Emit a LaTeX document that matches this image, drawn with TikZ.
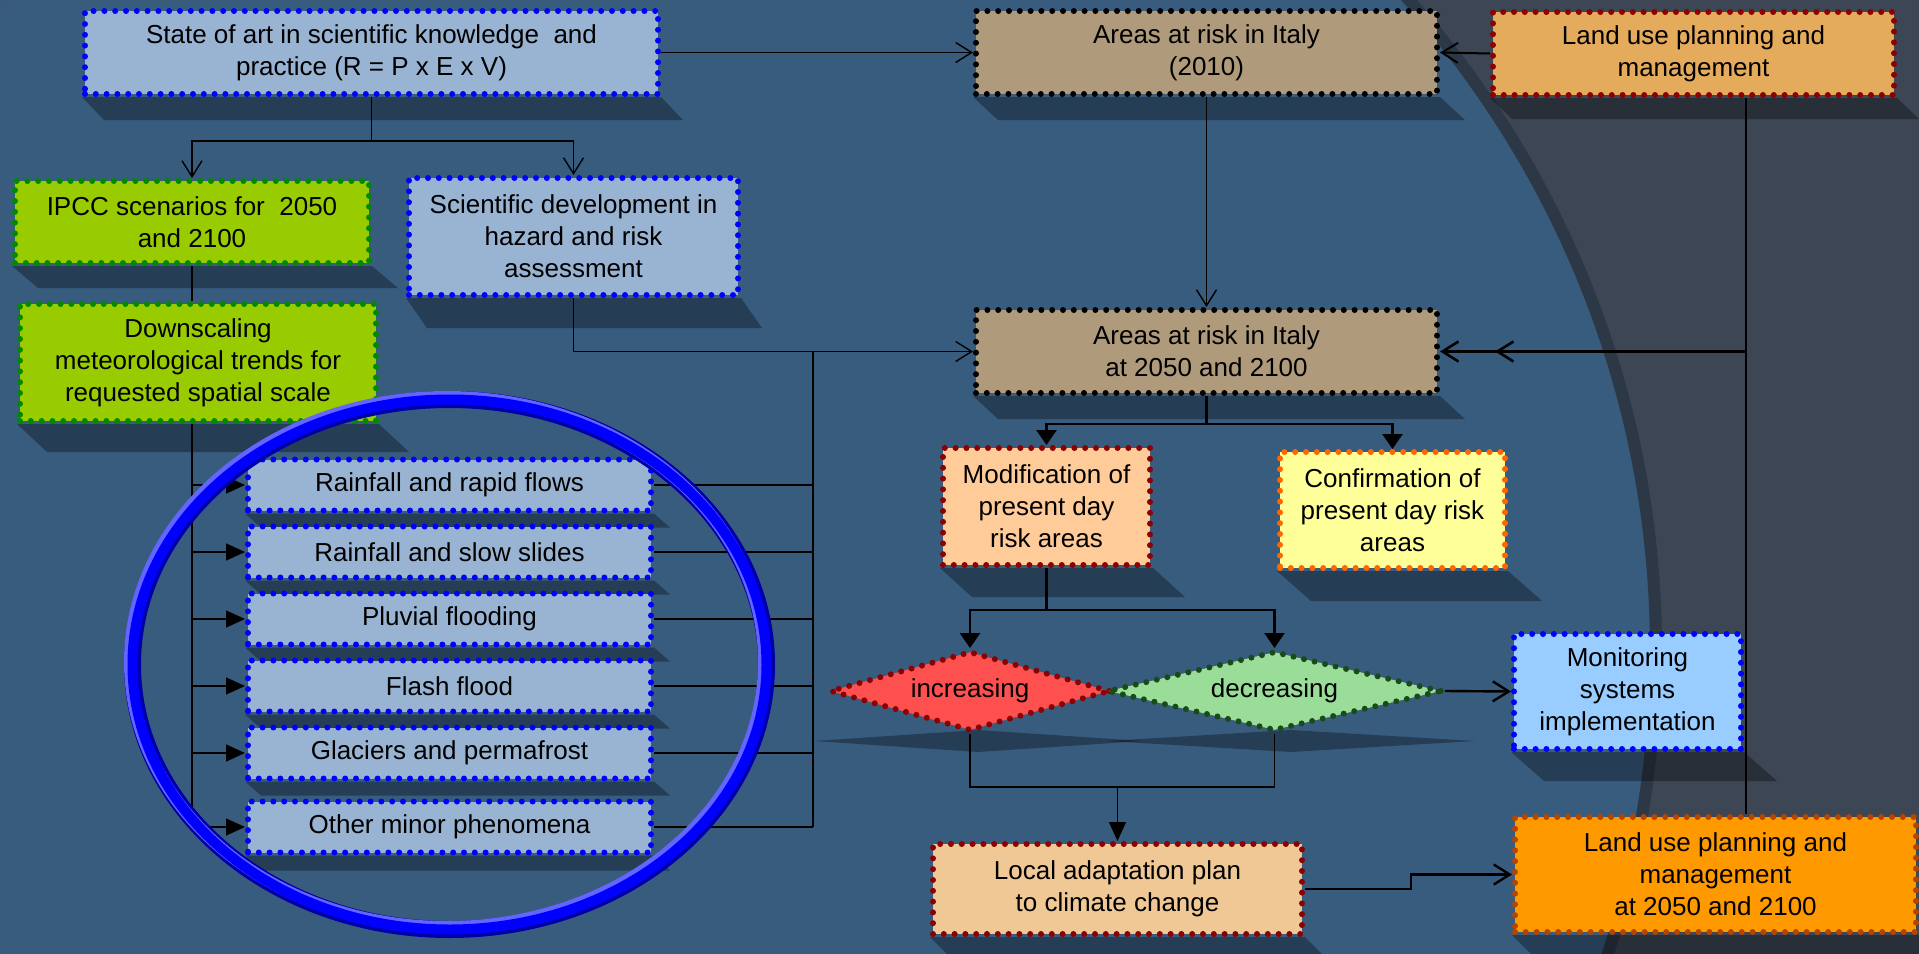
\documentclass[tikz,border=0pt]{standalone}
\usepackage{fontspec}
\setmainfont{Liberation Sans}
\usepackage{tikz}
\usetikzlibrary{arrows.meta,positioning,shapes.geometric}
\definecolor{slidebg}{HTML}{385C7E}
\definecolor{slidedark}{HTML}{3C4654}
\definecolor{slideedge}{HTML}{2D3846}
\definecolor{hatchblue}{HTML}{99B4D2}
\definecolor{dotblue}{HTML}{0000FF}
\definecolor{limegreen}{HTML}{99CC00}
\definecolor{dotgreen}{HTML}{008A00}
\definecolor{riskbrown}{HTML}{AF9B7B}
\definecolor{landorange}{HTML}{E5AB5D}
\definecolor{dotred}{HTML}{8B0000}
\definecolor{peach}{HTML}{FFCC99}
\definecolor{paleyellow}{HTML}{FFFF99}
\definecolor{dotorange}{HTML}{FF6600}
\definecolor{alarmred}{HTML}{FF5050}
\definecolor{softgreen}{HTML}{99DD99}
\definecolor{dotdarkgreen}{HTML}{1A4A1A}
\definecolor{skyblue}{HTML}{99CCFF}
\definecolor{sand}{HTML}{F0C896}
\definecolor{deeporange}{HTML}{FF9900}
\definecolor{dotbrown}{HTML}{B84400}
\definecolor{ringblue}{HTML}{0000FF}
\definecolor{ringlight}{HTML}{6464FF}
\definecolor{ringdark}{HTML}{0000A8}
\newcommand{\diagramfont}{\fontsize{13}{16}\selectfont}
\newcommand{\boxshadow}[3]{%
    \fill[castshadow] (#1.south west) -- (#1.south east)
        -- ([shift={(#2,#3)}]#1.south east)
        -- ([shift={(#2,#3)}]#1.south west) -- cycle;}
\pgfdeclarelayer{backdrop}
\pgfsetlayers{backdrop,main}

\begin{document}
\begin{tikzpicture}[
    x=0.5pt, y=-0.5pt,
    box/.style={
        rectangle,
        inner sep=0pt,
        align=center,
        font=\diagramfont,
        text=black,
        line width=3pt,
        dash pattern=on 0pt off 5.4pt,
        line cap=round
    },
    knowledge/.style={box, fill=hatchblue, draw=dotblue},
    scenario/.style={box, fill=limegreen, draw=dotgreen},
    riskarea/.style={box, fill=riskbrown, draw=black,
        minimum width=230.5pt, minimum height=41.5pt},
    hazard/.style={knowledge, minimum width=201.5pt, minimum height=25.5pt},
    decision/.style={
        diamond,
        inner sep=0pt,
        font=\diagramfont,
        line width=3pt,
        dash pattern=on 0pt off 5.4pt,
        line cap=round
    },
    castshadow/.style={fill=black, fill opacity=0.32},
    link/.style={draw=black, line width=0.7pt},
    openarrow/.style={link, -{Straight Barb[length=8pt,width=10pt]}},
    solidarrow/.style={link, -{Triangle[length=9.5pt,width=8.5pt]}},
    widearrow/.style={link, line width=1.3pt, -{Triangle[length=7.5pt,width=10pt]}}
]
    \useasboundingbox (0,0) rectangle (1919,954);

    \node[knowledge, minimum width=286.5pt, minimum height=41.5pt] (state)
        at (371.5,52.5) {State of art in scientific knowledge\ \ and\\
        practice (R = P x E x V)};
    \node[riskarea] (areas10) at (1206.5,52.5) {Areas at risk in Italy\\
        (2010)};
    \node[box, fill=landorange, draw=dotred, minimum width=200.5pt,
        minimum height=41.5pt] (landtop) at (1693.5,53.5)
        {Land use planning and\\management};
    \node[scenario, minimum width=177pt, minimum height=41pt] (ipcc)
        at (192,222) {IPCC scenarios for\ \ 2050\\and 2100};
    \node[knowledge, minimum width=164.5pt, minimum height=58.5pt] (scidev)
        at (573.5,236.5) {Scientific development in\\hazard and risk\\
        assessment};
    \node[scenario, minimum width=178pt, minimum height=58.5pt] (downscale)
        at (198,362.5) {Downscaling\\meteorological trends for\\
        requested spatial scale};
    \node[riskarea] (areas50) at (1206.5,351.5) {Areas at risk in Italy\\
        at 2050 and 2100};

    \node[hazard] (rain1) at (449.5,485) {Rainfall and rapid flows};
    \node[hazard, below=5pt of rain1] (rain2) {Rainfall and slow slides};
    \node[hazard, below=5pt of rain2] (rain3) {Pluvial flooding};
    \node[hazard, below=5pt of rain3] (rain4) {Flash flood};
    \node[hazard, below=5pt of rain4] (rain5) {Glaciers and permafrost};
    \node[hazard, below=8.5pt of rain5] (rain6) {Other minor phenomena};

    \node[box, fill=peach, draw=dotred, minimum width=103.5pt,
        minimum height=58.5pt] (modif) at (1046.5,506.5)
        {Modification of\\present day\\risk areas};
    \node[box, fill=paleyellow, draw=dotorange, minimum width=112.5pt,
        minimum height=58pt] (confirm) at (1392.5,510)
        {Confirmation of\\present day risk\\areas};
    \node[decision, fill=alarmred, draw=dotred, aspect=3.5,
        minimum width=140.5pt, minimum height=40pt] (incr)
        at (970,691) {increasing};
    \node[decision, fill=softgreen, draw=dotdarkgreen, aspect=4.2,
        minimum width=167.5pt, minimum height=40pt] (decr)
        at (1274.5,691) {decreasing};
    \node[box, fill=skyblue, draw=dotblue, minimum width=113.5pt,
        minimum height=57.5pt] (monitor) at (1627.5,691.5)
        {Monitoring\\systems\\implementation};
    \node[box, fill=sand, draw=dotred, minimum width=184.5pt,
        minimum height=45pt] (localplan) at (1117.5,889)
        {Local adaptation plan\\to climate change};
    \node[box, fill=deeporange, draw=dotbrown, minimum width=200.5pt,
        minimum height=57.5pt] (landbot) at (1715.5,874.5)
        {Land use planning and\\management\\at 2050 and 2100};

    \begin{pgfonlayer}{backdrop}
        \fill[slidebg] (0,0) rectangle (1919,954);
        \begin{scope}
            \clip (0,0) rectangle (1919,954);
            \fill[slidedark, even odd rule] (0,0) rectangle (1919,954)
                (677,650) circle [radius=973];
            \draw[slideedge, line width=6pt] (677,650) circle [radius=979];
        \end{scope}
        \boxshadow{state}{22}{23}
        \boxshadow{areas10}{25}{23}
        \boxshadow{landtop}{22}{21}
        \boxshadow{ipcc}{26}{22}
        \boxshadow{scidev}{21}{30}
        \boxshadow{downscale}{30}{28}
        \boxshadow{areas50}{25}{23}
        \boxshadow{rain1}{16}{14}
        \boxshadow{rain2}{16}{14}
        \boxshadow{rain3}{16}{14}
        \boxshadow{rain4}{16}{14}
        \boxshadow{rain5}{16}{14}
        \boxshadow{rain6}{16}{15}
        \boxshadow{modif}{32}{29}
        \boxshadow{confirm}{34}{30}
        \boxshadow{monitor}{33}{29}
        \boxshadow{localplan}{30}{30}
        \boxshadow{landbot}{30}{30}
        \fill[castshadow] (814,741) -- (978,730) -- (1143,741)
            -- (978,752) -- cycle;
        \fill[castshadow] (1107,741) -- (1291,730) -- (1475,741)
            -- (1291,752) -- cycle;
    \end{pgfonlayer}

    \draw[openarrow] (state.east) -- (areas10.west);
    \draw[openarrow, line width=1pt] (landtop.west) -- (areas10.east);
    \draw[openarrow] (state.south) -- ++(0,44) -| (ipcc.north);
    \draw[openarrow] (state.south) -- ++(0,44) -| (scidev.north);
    \draw[openarrow] (areas10.south) -- (areas50.north);

    \draw[link] (ipcc.south) -- (ipcc.south |- downscale.north);
    \draw[link] (ipcc.south |- downscale.south) -- (ipcc.south |- rain6.west);
    \draw[solidarrow] (ipcc.south |- rain1.west) -- (rain1.west);
    \draw[solidarrow] (ipcc.south |- rain2.west) -- (rain2.west);
    \draw[solidarrow] (ipcc.south |- rain3.west) -- (rain3.west);
    \draw[solidarrow] (ipcc.south |- rain4.west) -- (rain4.west);
    \draw[solidarrow] (ipcc.south |- rain5.west) -- (rain5.west);
    \draw[solidarrow] (ipcc.south |- rain6.west) -- (rain6.west);

    \coordinate (collect) at (813,351.5);
    \draw[openarrow] (scidev.south) |- (areas50.west);
    \draw[link] (collect) -- (collect |- rain6.east);
    \draw[link] (rain1.east) -- (rain1.east -| collect);
    \draw[link] (rain2.east) -- (rain2.east -| collect);
    \draw[link] (rain3.east) -- (rain3.east -| collect);
    \draw[link] (rain4.east) -- (rain4.east -| collect);
    \draw[link] (rain5.east) -- (rain5.east -| collect);
    \draw[link] (rain6.east) -- (rain6.east -| collect);

    \coordinate (landbus) at (1746,351.5);
    \draw[link] (landbus |- landtop.south) -- (landbus |- landbot.north);
    \draw[openarrow, line width=1.3pt] (landbus) -- ([xshift=27.5pt]areas50.east);
    \draw[openarrow, line width=1.3pt] (landbus) -- (areas50.east);

    \draw[widearrow] (areas50.south) -- ++(0,28) -| (modif.north);
    \draw[widearrow] (areas50.south) -- ++(0,28) -| (confirm.north);
    \draw[widearrow] (modif.south) -- ++(0,42) -| (incr.north);
    \draw[widearrow] (modif.south) -- ++(0,42) -| (decr.north);

    \coordinate (merge) at (1117.5,787);
    \draw[link] (incr.south) |- (merge) -| (decr.south);
    \draw[solidarrow] (merge) -- (localplan.north);
    \draw[openarrow, line width=1.2pt] (decr.east) -- (monitor.west);
    \draw[openarrow, line width=1.2pt] (localplan.east) -- ++(106,0) |- (landbot.west);

    \draw[ringdark, line width=8.5pt] (449.5,664.5) ellipse [x radius=317, y radius=265];
    \draw[ringlight, line width=6pt, shift={(-2.5,-2.5)}] (449.5,664.5)
        ellipse [x radius=317, y radius=265];
    \draw[ringblue, line width=5pt] (449.5,664.5) ellipse [x radius=317, y radius=265];
\end{tikzpicture}
\end{document}
